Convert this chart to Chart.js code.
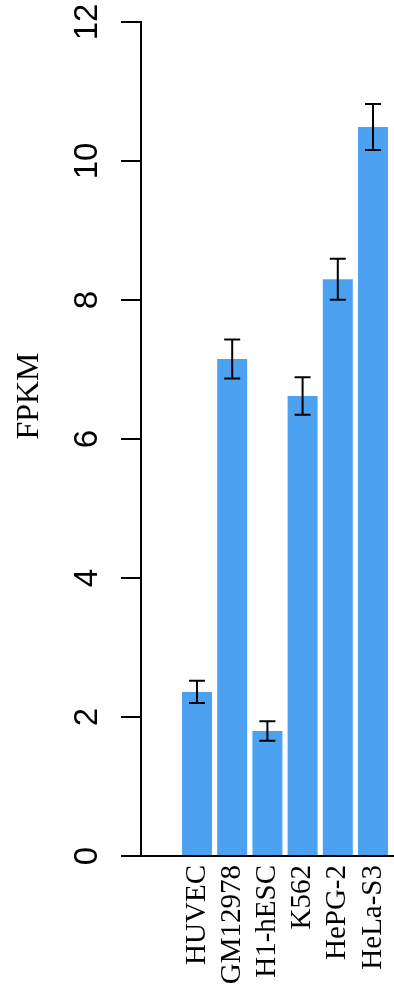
<!DOCTYPE html>
<html>
<head>
<meta charset="utf-8">
<script src="https://cdn.jsdelivr.net/npm/chart.js@4/dist/chart.umd.min.js"></script>
<style>
  html, body { margin: 0; padding: 0; background: #ffffff; }
  canvas { display: block; }
</style>
</head>
<body>
<canvas id="chart" width="394" height="986"></canvas>
<script>
// values
const cellLines = ["HUVEC", "GM12978", "H1-hESC", "K562", "HePG-2", "HeLa-S3"];
const fpkm = [2.36, 7.15, 1.80, 6.62, 8.30, 10.49];
const fpkmErr = [0.16, 0.28, 0.14, 0.27, 0.295, 0.33];
const barPos = [1, 2, 3, 4, 5, 6];
const yTickValues = [0, 2, 4, 6, 8, 10, 12];

const barColor = "#4ca2f0";

// error bars + rotated y labels + axis title
const extrasPlugin = {
  id: "extras",
  afterDatasetsDraw(chart) {
    const { ctx, scales: { x, y } } = chart;
    ctx.save();
    ctx.strokeStyle = "#000000";
    ctx.lineWidth = 2;
    barPos.forEach((pos, i) => {
      const px = x.getPixelForValue(pos);
      const top = y.getPixelForValue(fpkm[i] + fpkmErr[i]);
      const bot = y.getPixelForValue(fpkm[i] - fpkmErr[i]);
      ctx.beginPath();
      ctx.moveTo(px, top);
      ctx.lineTo(px, bot);
      ctx.moveTo(px - 8, top);
      ctx.lineTo(px + 8, top);
      ctx.moveTo(px - 8, bot);
      ctx.lineTo(px + 8, bot);
      ctx.stroke();
    });
    ctx.restore();
  },
  afterDraw(chart) {
    const { ctx, scales: { y } } = chart;
    ctx.save();
    ctx.fillStyle = "#000000";
    ctx.textAlign = "center";
    ctx.textBaseline = "alphabetic";
    ctx.font = "33px 'Liberation Sans', Arial, sans-serif";
    y.ticks.forEach((t, i) => {
      const py = y.getPixelForTick(i);
      ctx.save();
      ctx.translate(97, py);
      ctx.rotate(-Math.PI / 2);
      ctx.fillText(String(t.value), 0, 0);
      ctx.restore();
    });
    ctx.font = "32px 'Liberation Serif', 'Times New Roman', serif";
    ctx.translate(38, 396);
    ctx.rotate(-Math.PI / 2);
    ctx.fillText("FPKM", 0, 0);
    ctx.restore();
  }
};

new Chart(document.getElementById("chart"), {
  type: "bar",
  data: {
    datasets: [
      {
        data: barPos.map((p, i) => ({ x: p, y: fpkm[i] })),
        backgroundColor: barColor,
        borderWidth: 0,
        barPercentage: 0.852,
        categoryPercentage: 1.0,
      },
    ],
  },
  options: {
    responsive: false,
    animation: false,
    layout: { padding: { top: 22, right: 0, left: 0, bottom: 0 } },
    plugins: {
      legend: { display: false },
      tooltip: { enabled: false },
    },
    scales: {
      x: {
        type: "linear",
        offset: false,
        min: -0.591,
        max: 6.597,
        afterBuildTicks: (scale) => {
          scale.ticks = barPos.map((v) => ({ value: v }));
        },
        afterFit: (scale) => {
          scale.height = 130;
          scale.paddingLeft = 0;
          scale.paddingRight = 0;
        },
        grid: { display: false, drawTicks: false, offset: false },
        border: { display: true, color: "#000000", width: 2 },
        ticks: {
          autoSkip: false,
          minRotation: 90,
          maxRotation: 90,
          padding: 9,
          color: "#000000",
          font: { family: "'Liberation Serif', 'Times New Roman', serif", size: 29 },
          callback: (value) => cellLines[value - 1] || "",
        },
      },
      y: {
        min: 0,
        max: 12,
        afterBuildTicks: (scale) => {
          scale.ticks = yTickValues.map((v) => ({ value: v }));
        },
        afterFit: (scale) => {
          scale.width = 141;
        },
        grid: {
          drawOnChartArea: false,
          drawTicks: true,
          tickLength: 20,
          color: "#000000",
          lineWidth: 2,
        },
        border: { display: true, color: "#000000", width: 2 },
        ticks: { display: false },
      },
    },
  },
  plugins: [extrasPlugin],
});
</script>
</body>
</html>
